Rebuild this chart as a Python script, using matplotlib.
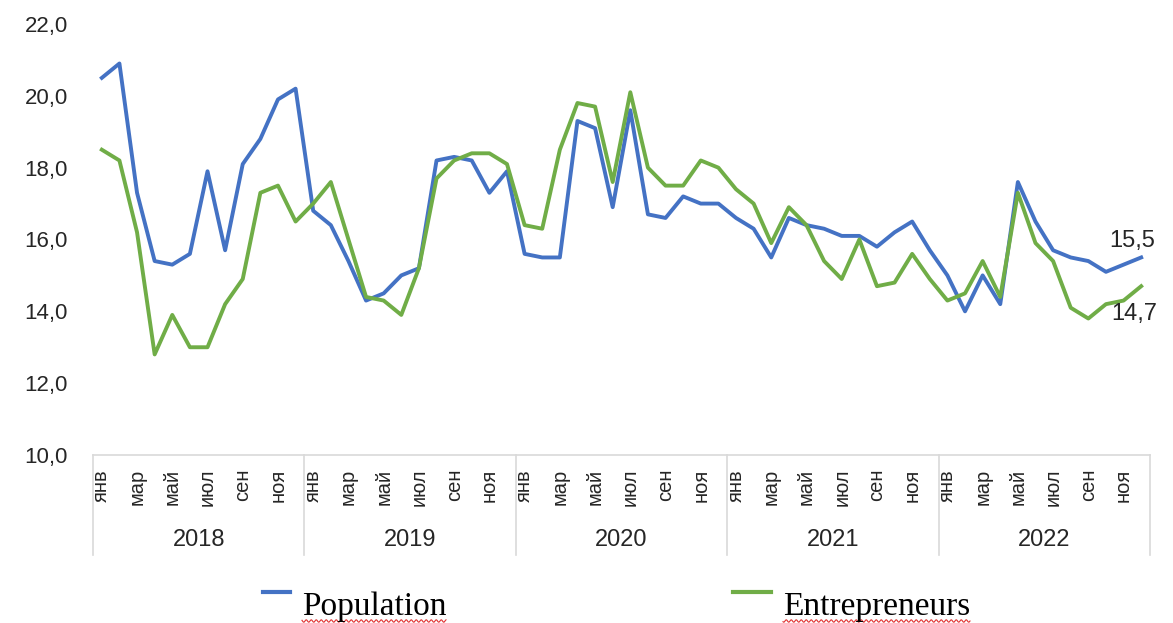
"""Population vs entrepreneurs, monthly 2018-2022."""
import numpy as np
import matplotlib
matplotlib.use("Agg")
import matplotlib.pyplot as plt
from matplotlib.transforms import blended_transform_factory
from matplotlib.lines import Line2D

years = ["2018", "2019", "2020", "2021", "2022"]
months = ["янв", "фев", "мар", "апр", "май", "июн",
          "июл", "авг", "сен", "окт", "ноя", "дек"]

population = [
    20.5, 20.9, 17.3, 15.4, 15.3, 15.6, 17.9, 15.7, 18.1, 18.8, 19.9, 20.2,
    16.8, 16.4, 15.4, 14.3, 14.5, 15.0, 15.2, 18.2, 18.3, 18.2, 17.3, 17.9,
    15.6, 15.5, 15.5, 19.3, 19.1, 16.9, 19.6, 16.7, 16.6, 17.2, 17.0, 17.0,
    16.6, 16.3, 15.5, 16.6, 16.4, 16.3, 16.1, 16.1, 15.8, 16.2, 16.5, 15.7,
    15.0, 14.0, 15.0, 14.2, 17.6, 16.5, 15.7, 15.5, 15.4, 15.1, 15.3, 15.5,
]
entrepreneurs = [
    18.5, 18.2, 16.2, 12.8, 13.9, 13.0, 13.0, 14.2, 14.9, 17.3, 17.5, 16.5,
    17.0, 17.6, 16.0, 14.4, 14.3, 13.9, 15.2, 17.7, 18.2, 18.4, 18.4, 18.1,
    16.4, 16.3, 18.5, 19.8, 19.7, 17.6, 20.1, 18.0, 17.5, 17.5, 18.2, 18.0,
    17.4, 17.0, 15.9, 16.9, 16.4, 15.4, 14.9, 16.0, 14.7, 14.8, 15.6, 14.9,
    14.3, 14.5, 15.4, 14.4, 17.3, 15.9, 15.4, 14.1, 13.8, 14.2, 14.3, 14.7,
]

BLUE = "#4472C4"
GREEN = "#70AD47"
GRID = "#D9D9D9"
TXT = "#262626"

plt.rcParams["font.family"] = ["Liberation Sans", "DejaVu Sans"]

fig = plt.figure(figsize=(11.73, 6.23), dpi=100)
ax = fig.add_axes([93 / 1173, 1 - 455 / 623, (1150 - 93) / 1173, (455 - 24) / 623])

x = np.arange(len(population))
ax.plot(x, population, color=BLUE, lw=2.8, solid_joinstyle="round")
ax.plot(x, entrepreneurs, color=GREEN, lw=2.8, solid_joinstyle="round")

ax.set_xlim(-0.5, len(x) - 0.5)
ax.set_ylim(10, 22)
ax.set_yticks(np.arange(10, 23, 2))
ax.set_yticklabels([f"{v:.1f}".replace(".", ",") for v in np.arange(10, 23, 2)],
                   fontsize=16, color=TXT)
ax.tick_params(axis="y", length=0, pad=18)

# month labels every other month
ticks = x[::2]
ax.set_xticks(ticks)
ax.set_xticklabels([months[i % 12] for i in ticks], rotation=90,
                   fontsize=14.5, color=TXT)
ax.tick_params(axis="x", length=0, pad=10)

for s in ["top", "right", "left"]:
    ax.spines[s].set_visible(False)
ax.spines["bottom"].set_color(GRID)
ax.spines["bottom"].set_linewidth(1.2)

# year group separators and labels
tr = blended_transform_factory(ax.transData, ax.transAxes)
for k in range(len(years) + 1):
    xs = -0.5 + 12 * k
    ax.plot([xs, xs], [0, -0.232], color=GRID, lw=1.2, transform=tr, clip_on=False)
for k, yr in enumerate(years):
    ax.text(5.5 + 12 * k, -0.198, yr, transform=tr, ha="center", va="center",
            fontsize=17, color=TXT)

# end labels
ax.annotate(f"{population[-1]:.1f}".replace(".", ","), (x[-1], population[-1]),
            xytext=(-9, 16), textcoords="offset pixels", ha="center", va="center",
            fontsize=17, color=TXT)
ax.annotate(f"{entrepreneurs[-1]:.1f}".replace(".", ","), (x[-1], entrepreneurs[-1]),
            xytext=(-7, -28), textcoords="offset pixels", ha="center", va="center",
            fontsize=17, color=TXT)

# legend drawn by hand
def legend_item(x0, x1, tx, label, color):
    y = 1 - 592 / 623
    fig.add_artist(Line2D([x0 / 1173, x1 / 1173], [y, y], color=color, lw=3))
    return fig.text(tx / 1173, 1 - 615 / 623, label, fontsize=24,
                    family=["Liberation Serif"], color="black", va="baseline")

t1 = legend_item(263, 290, 302, "Population", BLUE)
t2 = legend_item(733, 771, 783, "Entrepreneurs", GREEN)

# red spell-check squiggle under legend labels
fig.canvas.draw()
r = fig.canvas.get_renderer()
for t in (t1, t2):
    bb = t.get_window_extent(r)
    xs = np.arange(bb.x0, bb.x1, 0.5)
    ys = (623 - 621) + 1.2 * np.sin(xs * 2 * np.pi / 5)
    fig.add_artist(Line2D(xs / 1173, ys / 623, color="#E03030", lw=0.8))

fig.savefig("out.png", dpi=100)
